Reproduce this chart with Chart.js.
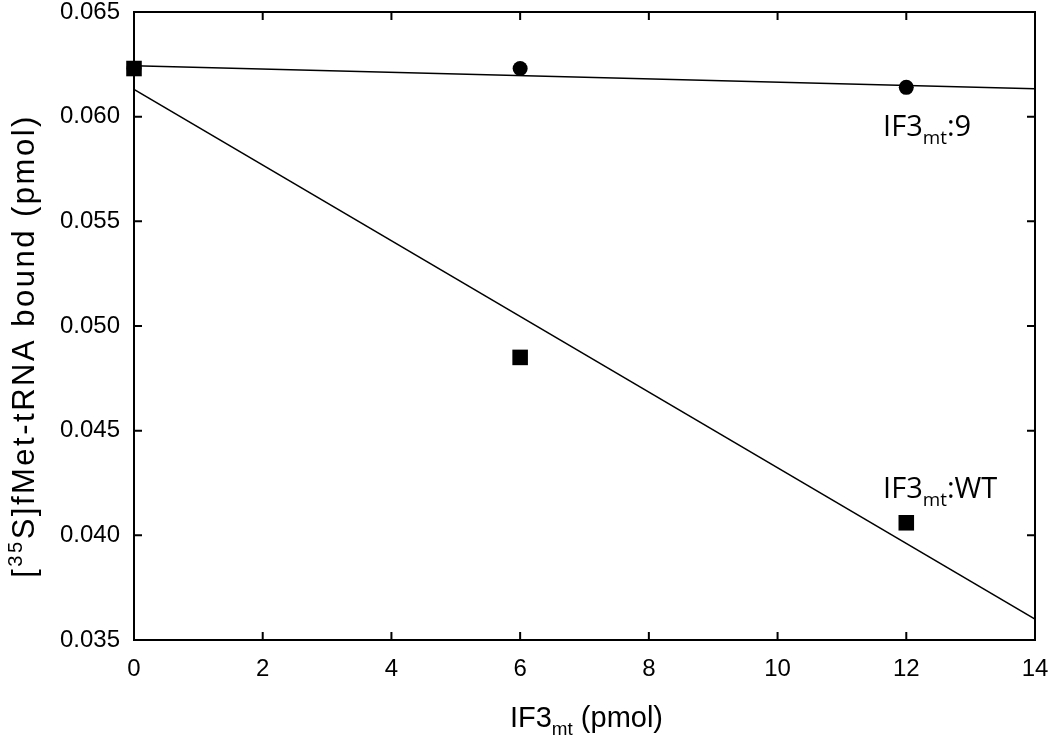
<!DOCTYPE html>
<html>
<head>
<meta charset="utf-8">
<script src="https://cdn.jsdelivr.net/npm/chart.js@4.4.1/dist/chart.umd.min.js"></script>
<style>
  html, body { margin: 0; padding: 0; background: #fff; }
  #wrap { width: 1050px; height: 741px; }
</style>
</head>
<body>
<div id="wrap"><canvas id="c"></canvas></div>
<script>
// --- data ---
const xDoses = [0, 6, 12];                       // IF3mt (pmol)
const boundMut9 = [0.0623, 0.0623, 0.0614];      // IF3mt:9, circles
const boundWT = [0.0623, 0.0485, 0.0406];        // IF3mt:WT, squares
const fitX = [0, 14];
const fitMut9 = [0.06243, 0.06133];
const fitWT = [0.0613, 0.0360];
const xTicks = [0, 2, 4, 6, 8, 10, 12, 14];
const yTicks = [0.035, 0.040, 0.045, 0.050, 0.055, 0.060, 0.065];

// annotation anchors in data units (text baseline-left)
const notes = [
  { x: 11.64, y: 0.0591, parts: [{ t: "IF3" }, { t: "mt", sub: true }, { t: ":9" }] },
  { x: 11.64, y: 0.0418, parts: [{ t: "IF3" }, { t: "mt", sub: true }, { t: ":WT" }] }
];

const pts = (xs, ys) => xs.map((x, i) => ({ x: x, y: ys[i] }));
const SANS = "'Liberation Sans', Arial, sans-serif";
const NOTE_FONT = "'Open Sans', 'Noto Sans', sans-serif";

// draw a run of text with sub/superscript pieces, returns width
function richWidth(ctx, parts, size, family) {
  let w = 0;
  parts.forEach(p => {
    const s = (p.sub || p.sup) ? size * 0.65 : size;
    ctx.font = s + "px " + family;
    w += ctx.measureText(p.t).width;
  });
  return w;
}
function drawRich(ctx, parts, x, y, size, family) {
  let cx = x;
  parts.forEach(p => {
    const s = (p.sub || p.sup) ? size * 0.65 : size;
    ctx.font = s + "px " + family;
    let dy = 0;
    if (p.sub) dy = size * 0.28;
    if (p.sup) dy = -size * 0.38;
    ctx.fillText(p.t, cx, y + dy);
    cx += ctx.measureText(p.t).width;
  });
}

const framePlugin = {
  id: "frame",
  afterDraw(chart) {
    const { ctx, chartArea: a, scales } = chart;
    ctx.save();
    ctx.strokeStyle = "#000";
    ctx.lineWidth = 2;
    ctx.strokeRect(a.left, a.top, a.right - a.left, a.bottom - a.top);
    const tl = 8;
    ctx.beginPath();
    xTicks.forEach(v => {
      const px = scales.x.getPixelForValue(v);
      ctx.moveTo(px, a.bottom); ctx.lineTo(px, a.bottom - tl);
      ctx.moveTo(px, a.top); ctx.lineTo(px, a.top + tl);
    });
    yTicks.forEach(v => {
      const py = scales.y.getPixelForValue(v);
      ctx.moveTo(a.left, py); ctx.lineTo(a.left + tl, py);
      ctx.moveTo(a.right, py); ctx.lineTo(a.right - tl, py);
    });
    ctx.stroke();

    ctx.fillStyle = "#000";
    ctx.textBaseline = "alphabetic";
    ctx.textAlign = "left";

    // x title
    const xt = [{ t: "IF3" }, { t: "mt", sub: true }, { t: " (pmol)" }];
    const xs = 29;
    const xw = richWidth(ctx, xt, xs, SANS);
    drawRich(ctx, xt, (a.left + a.right) / 2 - xw / 2 + 2, 727, xs, SANS);

    // y title, rotated
    const yt = [{ t: "[" }, { t: "35", sup: true }, { t: "S]fMet-tRNA bound (pmol)" }];
    const ys = 31;
    ctx.save();
    ctx.letterSpacing = "2.5px";
    const yw = richWidth(ctx, yt, ys, SANS);
    ctx.translate(34, 346);
    ctx.rotate(-Math.PI / 2);
    drawRich(ctx, yt, -yw / 2, 0, ys, SANS);
    ctx.restore();

    // curve labels
    notes.forEach(n => {
      drawRich(ctx, n.parts, scales.x.getPixelForValue(n.x), scales.y.getPixelForValue(n.y), 29, NOTE_FONT);
    });
    ctx.restore();
  }
};

new Chart(document.getElementById("c"), {
  type: "scatter",
  data: {
    datasets: [
      { data: pts(fitX, fitMut9), showLine: true, borderColor: "#000", borderWidth: 1.5, pointRadius: 0 },
      { data: pts(fitX, fitWT), showLine: true, borderColor: "#000", borderWidth: 1.5, pointRadius: 0 },
      { data: pts(xDoses, boundMut9), pointStyle: "circle", pointRadius: 7.5, backgroundColor: "#000", borderColor: "#000", borderWidth: 0, clip: false },
      { data: pts(xDoses, boundWT), pointStyle: "rect", pointRadius: 11, backgroundColor: "#000", borderColor: "#000", borderWidth: 0, clip: false }
    ]
  },
  options: {
    responsive: true,
    maintainAspectRatio: false,
    animation: false,
    devicePixelRatio: 1,
    layout: { padding: { left: 0, right: 15, top: 12, bottom: 0 } },
    plugins: { legend: { display: false }, tooltip: { enabled: false } },
    scales: {
      x: {
        type: "linear", min: 0, max: 14,
        afterFit: s => { s.height = 101; s.paddingLeft = 0; s.paddingRight = 0; },
        afterBuildTicks: s => { s.ticks = xTicks.map(v => ({ value: v })); },
        grid: { display: false, drawTicks: false },
        border: { display: false },
        ticks: { padding: 15, color: "#000", font: { family: SANS, size: 24 } }
      },
      y: {
        type: "linear", min: 0.035, max: 0.065,
        afterFit: s => { s.width = 134; s.paddingTop = 0; s.paddingBottom = 0; },
        afterBuildTicks: s => { s.ticks = yTicks.map(v => ({ value: v })); },
        grid: { display: false, drawTicks: false },
        border: { display: false },
        ticks: { padding: 14, color: "#000", font: { family: SANS, size: 24 }, callback: v => v.toFixed(3) }
      }
    }
  },
  plugins: [framePlugin]
});
</script>
</body>
</html>
